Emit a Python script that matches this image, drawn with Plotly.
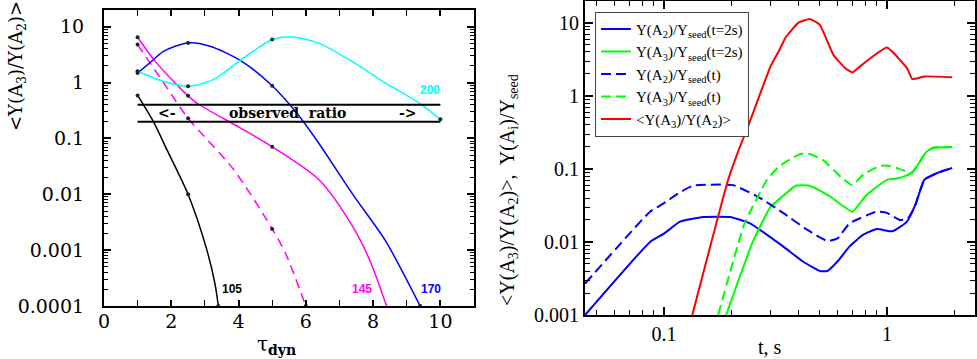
import plotly.graph_objects as go

# ---- left panel: <Y(A3)/Y(A2)> vs tau_dyn, one curve per label ----
tau_105 = [1.0, 1.47, 1.87, 2.5, 3.06, 3.3, 3.4]
ratio_105 = [0.59, 0.2, 0.063, 0.01, 0.001, 2.5e-4, 1e-4]

tau_145 = [1.0, 1.5, 2.16, 2.5, 2.81, 4.05, 5.0, 6.4, 7.4, 7.9, 8.4]
ratio_145 = [6.5, 2.5, 0.92, 0.58, 0.41, 0.155, 0.071, 0.018, 0.0026, 6.6e-4, 1e-4]

tau_145d = [1.0, 1.77, 2.5, 3.85, 5.0, 5.4, 6.0]
ratio_145d = [4.8, 1.0, 0.23, 0.028, 0.0024, 8.7e-4, 1e-4]

tau_170 = [1.0, 1.47, 1.77, 2.5, 3.15, 4.05, 5.0, 5.7, 6.38, 7.37, 8.36, 9.06, 9.4]
ratio_170 = [1.48, 2.57, 3.63, 5.13, 4.47, 2.51, 0.88, 0.3, 0.083, 0.0105, 0.0015, 2.5e-4, 1e-4]

tau_200 = [1.0, 1.77, 2.5, 3.25, 4.05, 5.0, 5.55, 6.38, 7.37, 8.36, 9.35, 10.0]
ratio_200 = [1.6, 1.05, 0.86, 1.13, 2.5, 5.9, 6.6, 5.1, 2.4, 0.99, 0.44, 0.22]

# computed model points (dots on the curves)
pts_tau_105 = [1.0, 2.5, 3.4]
pts_105 = [0.59, 0.01, 1e-4]
pts_tau_145 = [1.0, 2.5, 5.0]
pts_145 = [6.5, 0.58, 0.071]
pts_tau_145d = [1.0, 2.5, 5.0, 6.0]
pts_145d = [4.8, 0.23, 0.0024, 1e-4]
pts_tau_170 = [1.0, 2.5, 5.0, 9.4]
pts_170 = [1.48, 5.13, 0.88, 1e-4]
pts_tau_200 = [1.0, 2.5, 5.0, 10.0]
pts_200 = [1.6, 0.86, 5.9, 0.22]

# observed ratio band
obs_tau = [1.0, 10.0]
obs_low = [0.2, 0.2]
obs_high = [0.4, 0.4]

# ---- right panel: yields vs time ----
t_a2_fin = [0.0443, 0.0866, 0.1, 0.118, 0.15, 0.198, 0.243, 0.342, 0.42, 0.50, 0.54, 0.60,
            0.68, 0.78, 0.90, 1.06, 1.23, 1.35, 1.47, 1.68, 1.96]
y_a2_fin = [0.001, 0.010, 0.013, 0.019, 0.022, 0.022, 0.018, 0.0087, 0.0054, 0.004, 0.004, 0.0054,
            0.0087, 0.0125, 0.015, 0.014, 0.019, 0.034, 0.071, 0.088, 0.103]

t_a3_fin = [0.19, 0.25, 0.30, 0.355, 0.39, 0.45, 0.555, 0.70, 0.81, 1.0, 1.14, 1.3, 1.5, 1.61, 1.96]
y_a3_fin = [0.001, 0.010, 0.030, 0.047, 0.059, 0.059, 0.042, 0.026, 0.044, 0.071, 0.075, 0.089,
            0.17, 0.195, 0.20]

t_a2 = [0.0443, 0.0866, 0.1, 0.118, 0.135, 0.204, 0.27, 0.342, 0.44, 0.54, 0.60, 0.68, 0.90,
        1.0, 1.14, 1.24, 1.33, 1.47, 1.68, 1.96]
y_a2 = [0.0027, 0.026, 0.034, 0.048, 0.059, 0.060, 0.040, 0.025, 0.0146, 0.0103, 0.0112, 0.018,
        0.026, 0.025, 0.020, 0.021, 0.030, 0.071, 0.088, 0.103]

t_a3 = [0.175, 0.23, 0.29, 0.33, 0.41, 0.45, 0.516, 0.62, 0.70, 0.78, 0.93, 1.03, 1.17, 1.29,
        1.5, 1.61, 1.96]
y_a3 = [0.001, 0.018, 0.071, 0.11, 0.16, 0.16, 0.133, 0.078, 0.06, 0.083, 0.11, 0.11, 0.097,
        0.089, 0.17, 0.195, 0.20]

t_ratio = [0.134, 0.194, 0.219, 0.238, 0.30, 0.33, 0.35, 0.40, 0.45, 0.50, 0.575, 0.65, 0.70,
           0.74, 0.865, 1.0, 1.06, 1.23, 1.3, 1.48, 1.96]
y_ratio = [0.001, 0.071, 0.2, 0.38, 2.5, 4.3, 6.2, 10.0, 11.3, 9.4, 3.65, 2.4, 2.1, 2.4, 3.5,
           4.6, 4.0, 2.4, 1.7, 1.85, 1.8]

BLUE = '#0000ff'
GREEN = '#00ff00'
RED = '#ff0000'
MAGENTA = '#ff00ff'
CYAN = '#00ffff'

fig = go.Figure()

# left panel curves
left_curves = [
    (tau_105, ratio_105, 'black', 'solid'),
    (tau_145, ratio_145, MAGENTA, 'solid'),
    (tau_145d, ratio_145d, MAGENTA, '9px,6px'),
    (tau_170, ratio_170, BLUE, 'solid'),
    (tau_200, ratio_200, CYAN, 'solid'),
]
for xs, ys, col, dash in left_curves:
    fig.add_trace(go.Scatter(x=xs, y=ys, mode='lines',
                             line=dict(color=col, width=1.5, dash=dash, shape='spline', smoothing=0.8),
                             showlegend=False, xaxis='x', yaxis='y'))

for xs, ys in [(pts_tau_105, pts_105), (pts_tau_145, pts_145), (pts_tau_145d, pts_145d),
               (pts_tau_170, pts_170), (pts_tau_200, pts_200)]:
    fig.add_trace(go.Scatter(x=xs, y=ys, mode='markers', marker=dict(color='#222', size=4),
                             showlegend=False, xaxis='x', yaxis='y', cliponaxis=False))

for ys in (obs_low, obs_high):
    fig.add_trace(go.Scatter(x=obs_tau, y=ys, mode='lines', line=dict(color='black', width=2),
                             showlegend=False, xaxis='x', yaxis='y'))

# right panel curves
right_curves = [
    (t_a2_fin, y_a2_fin, BLUE, 'solid', 'Y(A<sub>2</sub>)/Y<sub>seed</sub>(t=2s)'),
    (t_a3_fin, y_a3_fin, GREEN, 'solid', 'Y(A<sub>3</sub>)/Y<sub>seed</sub>(t=2s)'),
    (t_a2, y_a2, BLUE, '10px,5px', 'Y(A<sub>2</sub>)/Y<sub>seed</sub>(t)'),
    (t_a3, y_a3, GREEN, '10px,5px', 'Y(A<sub>3</sub>)/Y<sub>seed</sub>(t)'),
    (t_ratio, y_ratio, RED, 'solid', '&lt;Y(A<sub>3</sub>)/Y(A<sub>2</sub>)&gt;'),
]
for xs, ys, col, dash, name in right_curves:
    fig.add_trace(go.Scatter(x=xs, y=ys, mode='lines', name=name,
                             line=dict(color=col, width=2, dash=dash, shape='spline', smoothing=0.4),
                             xaxis='x2', yaxis='y2'))

axis_common = dict(showgrid=False, zeroline=False, showline=True, linecolor='black', linewidth=2,
                   ticks='inside', mirror='allticks', tickcolor='black', tickwidth=2, automargin=False)
minor_common = dict(ticks='inside', tickcolor='black', tickwidth=1, showgrid=False)
serif_left = dict(family='DejaVu Serif', size=19, color='black')
serif_right = dict(family='Liberation Serif', size=20, color='black')

fig.update_layout(
    template='none',
    width=977, height=359,
    margin=dict(l=0, r=0, t=0, b=0),
    paper_bgcolor='white', plot_bgcolor='white',
    xaxis=dict(domain=[0.1064, 0.4852], range=[0, 11], tickmode='linear', tick0=0, dtick=2, ticklen=6,
               minor=dict(dtick=1, ticklen=6, **minor_common), tickfont=serif_left, anchor='y',
               ticklabelstandoff=-3, **axis_common),
    yaxis=dict(domain=[0.1476, 0.9721], type='log', range=[-4, 1.3], tickmode='linear', tick0=0, dtick=1,
               exponentformat='none', ticklen=7, minor=dict(dtick='D1', ticklen=4, **minor_common),
               tickfont=serif_left, ticklabelstandoff=14, anchor='x', **axis_common),
    xaxis2=dict(domain=[0.5988, 0.998], type='log', range=[-1.354, 0.395], tickmode='linear', tick0=0, dtick=1,
                exponentformat='none', ticklen=8, minor=dict(dtick='D1', ticklen=5, **minor_common),
                tickfont=serif_right, anchor='y2', **axis_common),
    yaxis2=dict(domain=[0.1226, 0.9972], type='log', range=[-3, 1.3], tickmode='linear', tick0=0, dtick=1,
                exponentformat='none', ticklen=8, minor=dict(dtick='D1', ticklen=5, **minor_common),
                tickfont=serif_right, anchor='x2', **axis_common),
    legend=dict(x=0.609, y=0.967, xanchor='left', yanchor='top', bgcolor='white', bordercolor='#444',
                borderwidth=1, font=dict(family='Liberation Serif', size=15, color='black'),
                tracegroupgap=0),
    hovermode=False,
)

annotations = [
    dict(text='&lt;Y(A<sub>3</sub>)/Y(A<sub>2</sub>)&gt;', x=17 / 977, y=1 - 66 / 359, xref='paper', yref='paper',
         xanchor='center', yanchor='middle', textangle=-90, showarrow=False,
         font=dict(family='DejaVu Serif', size=18, color='black')),
    dict(text='τ<sub><b>dyn</b></sub>', x=276 / 977, y=1 - 345 / 359, xref='paper', yref='paper',
         xanchor='center', yanchor='middle', showarrow=False,
         font=dict(family='DejaVu Serif', size=20, color='black')),
    dict(text='&lt;Y(A<sub>3</sub>)/Y(A<sub>2</sub>)&gt;,  Y(A<sub>i</sub>)/Y<sub>seed</sub>', x=508 / 977,
         y=1 - 190 / 359, xref='paper', yref='paper', xanchor='center', yanchor='middle', textangle=-90,
         showarrow=False, font=dict(family='Liberation Serif', size=20, color='black')),
    dict(text='t, s', x=770 / 977, y=1 - 347 / 359, xref='paper', yref='paper', xanchor='center',
         yanchor='middle', showarrow=False, font=dict(family='Liberation Serif', size=20, color='black')),
    dict(text='<b>&lt;-</b>', x=1.87, y=-0.54, xref='x', yref='y', showarrow=False,
         font=dict(family='DejaVu Serif', size=14, color='black')),
    dict(text='<b>observed  ratio</b>', x=5.46, y=-0.55, xref='x', yref='y', showarrow=False,
         font=dict(family='DejaVu Serif', size=14, color='black')),
    dict(text='<b>-&gt;</b>', x=9.05, y=-0.54, xref='x', yref='y', showarrow=False,
         font=dict(family='DejaVu Serif', size=14, color='black')),
    dict(text='<b>105</b>', x=3.81, y=-3.7, xref='x', yref='y', showarrow=False,
         font=dict(family='Liberation Sans', size=12, color='black')),
    dict(text='<b>145</b>', x=7.68, y=-3.7, xref='x', yref='y', showarrow=False,
         font=dict(family='Liberation Sans', size=12, color=MAGENTA)),
    dict(text='<b>170</b>', x=9.73, y=-3.7, xref='x', yref='y', showarrow=False,
         font=dict(family='Liberation Sans', size=12, color=BLUE)),
    dict(text='<b>200</b>', x=9.68, y=-0.14, xref='x', yref='y', showarrow=False,
         font=dict(family='Liberation Sans', size=12, color=CYAN)),
]
fig.update_layout(annotations=annotations)

# the page's default body margin would shift the picture, so drop it
fig.write_html("out.html", config={'displayModeBar': False},
               post_script="document.body.style.margin = '0px';")
